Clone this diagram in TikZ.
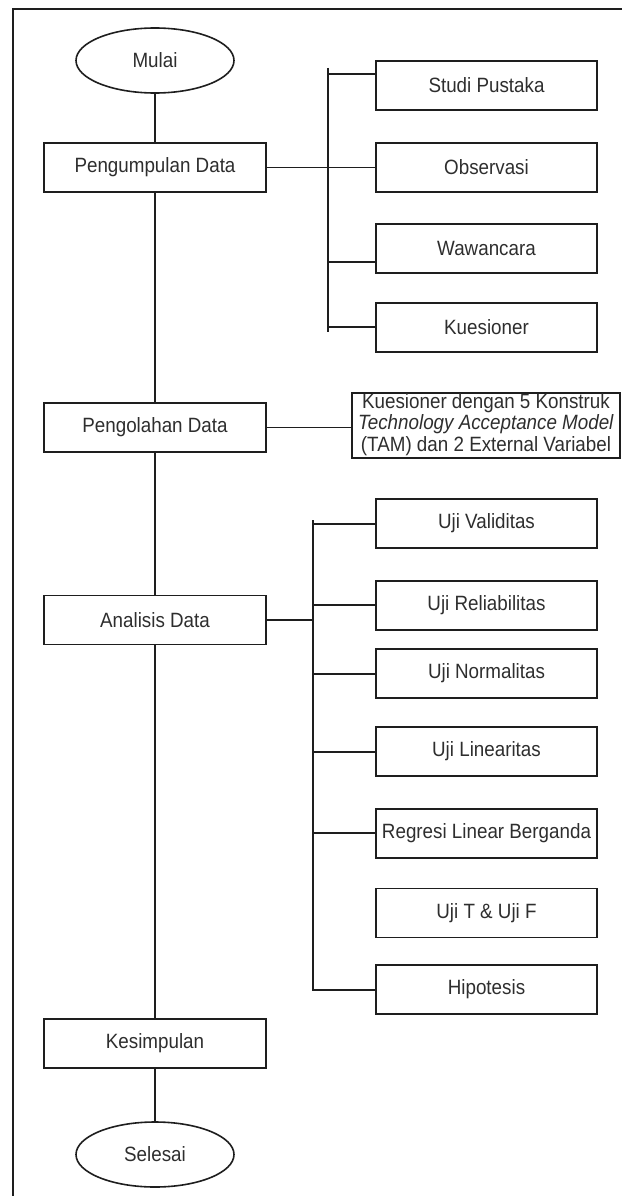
\documentclass[tikz,border=0pt]{standalone}
\usepackage{fontspec}
\setmainfont{Liberation Sans}
\usetikzlibrary{shapes.geometric,calc}
\newcommand{\T}[1]{\scalebox{1}[1.1]{#1}}
\newcommand{\TT}[1]{\scalebox{1}[1.1]{\begin{tabular}{@{}c@{}}#1\end{tabular}}}
\definecolor{txt}{HTML}{2E2E2E}
\definecolor{ln}{HTML}{1E1E1E}
\tikzset{
  base/.style={draw=ln, line width=1.6pt, text=txt, inner sep=0pt,
    font=\fontsize{18.8}{19.1}\selectfont},
  mainbox/.style={base, rectangle, minimum width=222pt, minimum height=49pt},
  subbox/.style={base, rectangle, minimum width=221pt, minimum height=49pt},
  term/.style={base, ellipse, minimum width=158pt, minimum height=65pt},
  conn/.style={draw=ln, line width=1.6pt},
}
\begin{document}
\begin{tikzpicture}[x=1pt,y=-1pt]
\useasboundingbox (0,0) rectangle (622,1196);
% frame (left and top edges visible)
\coordinate (fbl) at (13,1196);
\coordinate (ftl) at (13,9);
\coordinate (ftr) at (622,9);
\draw[conn] (fbl) -- (ftl) -- (ftr);

% main column
\node[term]    (mulai) at (155,60.5)  {\T{Mulai}};
\node[mainbox] (peng)  at (155,167.5) {\T{Pengumpulan Data}};
\node[mainbox] (olah)  at (155,427.5) {\T{Pengolahan Data}};
\node[mainbox] (anal)  at (155,620)   {\T{Analisis Data}};
\node[mainbox] (kes)   at (155,1043.5){\T{Kesimpulan}};
\node[term]    (sel)   at (155,1154.5){\T{Selesai}};

% data collection branch
\node[subbox] (studi) at (486.5,85.5)  {\T{Studi Pustaka}};
\node[subbox] (obs)   at (486.5,167.5) {\T{Observasi}};
\node[subbox] (waw)   at (486.5,248.5) {\T{Wawancara}};
\node[subbox] (kue)   at (486.5,327.5) {\T{Kuesioner}};

% processing note
\node[base, rectangle, minimum width=268pt, minimum height=65pt] (tam) at (486,425.5)
  {\TT{Kuesioner dengan 5 Konstruk\\ \textit{Technology Acceptance Model}\\ (TAM) dan 2 External Variabel}};

% analysis branch
\node[subbox] (val)  at (486.5,523.5) {\T{Uji Validitas}};
\node[subbox] (rel)  at (486.5,605.5) {\T{Uji Reliabilitas}};
\node[subbox] (norm) at (486.5,673.5) {\T{Uji Normalitas}};
\node[subbox] (lin)  at (486.5,751.5) {\T{Uji Linearitas}};
\node[subbox] (reg)  at (486.5,833.5) {\T{Regresi Linear Berganda}};
\node[subbox] (ujit) at (486.5,913)   {\T{Uji T \& Uji F}};
\node[subbox] (hip)  at (486.5,989.5) {\T{Hipotesis}};

% main flow
\draw[conn] (mulai) -- (peng);
\draw[conn] (peng) -- (olah);
\draw[conn] (olah) -- (anal);
\draw[conn] (anal) -- (kes);
\draw[conn] (kes) -- (sel);

% bus 1
\coordinate (b1t) at (328,68);
\coordinate (b1b) at (328,332);
\coordinate (s1) at (328,74);
\coordinate (s3) at (328,262);
\coordinate (s4) at (328,327);
\draw[conn] (b1t) -- (b1b);
\draw[conn] (peng.east) -- (obs.west);
\draw[conn] (s1) -- (s1 -| studi.west);
\draw[conn] (s3) -- (s3 -| waw.west);
\draw[conn] (s4) -- (s4 -| kue.west);

% processing connector
\draw[conn] (olah.east) -- (olah.east -| tam.west);

% bus 2
\coordinate (b2t) at (313,520);
\coordinate (b2b) at (313,990);
\draw[conn] (anal.east) -- (anal.east -| b2t);
\draw[conn] (b2t) -- (b2b) -- (b2b -| hip.west);
\foreach \n/\yy in {val/524, rel/605, norm/674, lin/752, reg/833}{
  \coordinate (t\n) at (313,\yy);
  \draw[conn] (t\n) -- (t\n -| \n.west);
}
\end{tikzpicture}
\end{document}
